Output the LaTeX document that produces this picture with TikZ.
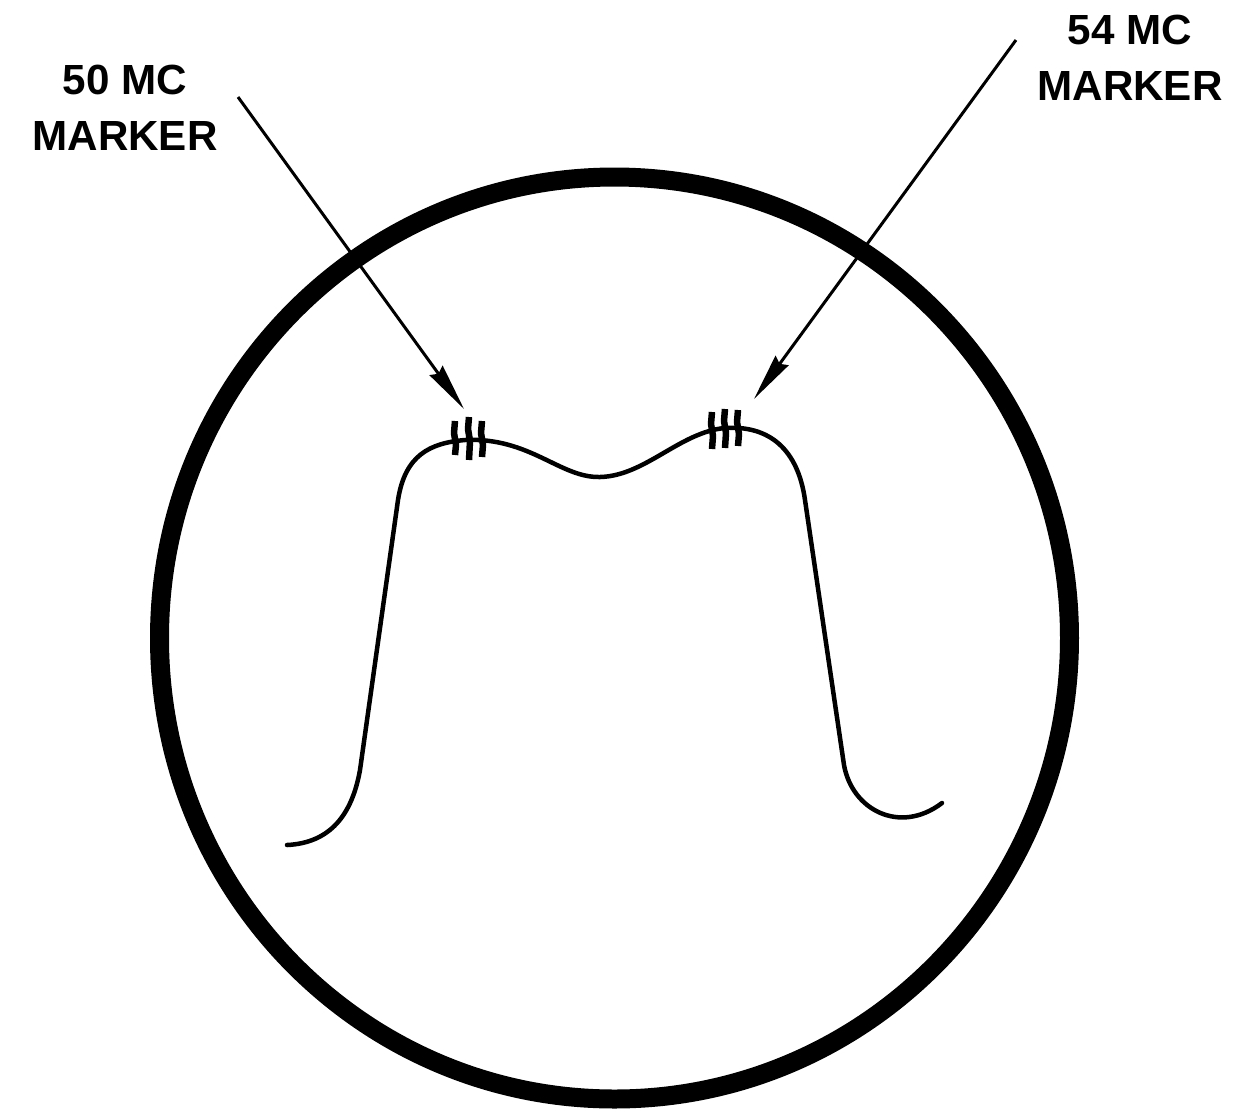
\documentclass[tikz,border=0pt]{standalone}
\usepackage{fontspec}
\setmainfont{Liberation Sans}
\usetikzlibrary{arrows.meta}

\tikzset{
    label/.style={align=center, font=\bfseries\fontsize{24}{32}\selectfont, inner sep=0pt},
    pointer/.style={line width=0.06cm, -{Stealth[length=0.95cm, width=0.32cm, inset=0.08cm]}},
    trace/.style={line width=0.09cm, line cap=round, line join=round},
    pip/.style={line width=0.13cm, line join=round}
}

\begin{document}
\begin{tikzpicture}[x=0.02cm, y=-0.02cm]
    \useasboundingbox (0,0) rectangle (1245,1110);
    \draw [line width=0.38cm] (614.5,638) ellipse [x radius=455, y radius=461];
\draw[trace] (287,845) .. controls (330,843) and (352,815) .. (360,770)
    -- (398,500) .. controls (405,455) and (430,443) .. (465,440)
    .. controls (530,437) and (560,478) .. (600,477)
    .. controls (645,476) and (680,432) .. (725,428)
    .. controls (770,425) and (798,450) .. (805,500)
    -- (844,765) .. controls (852,810) and (900,835) .. (942,803);
    \foreach \x/\a/\b in {455/421/455, 469/417/460, 482/421/457}
        \draw[pip] (\x,\a)--(\x-1,\a+12)--(\x+1,\a+24)--(\x,\b);
    \foreach \x/\a/\b in {712/412/449, 725/409/448, 738/410/446}
        \draw[pip] (\x,\a)--(\x-1,\a+12)--(\x+1,\a+24)--(\x,\b);
    \node[label] (lab50) at (125,108) {50 MC\\MARKER};
    \node[label] (lab54) at (1130,58) {54 MC\\MARKER};
    \coordinate (tail50) at (238,97);
    \coordinate (tip50) at (464,409);
    \coordinate (tail54) at (1016,40);
    \coordinate (tip54) at (754,399);
    \draw[pointer] (tail50)--(tip50);
    \draw[pointer] (tail54)--(tip54);
\end{tikzpicture}
\end{document}
